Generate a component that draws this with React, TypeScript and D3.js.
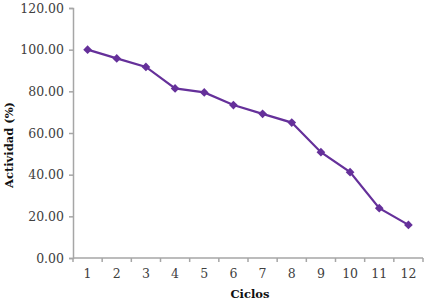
import React, { useRef, useEffect } from 'react';
import * as d3 from 'd3';

// data
const ciclos = ['1', '2', '3', '4', '5', '6', '7', '8', '9', '10', '11', '12'];
const actividad = [100, 95.8, 91.7, 81.4, 79.5, 73.4, 69.2, 65.0, 50.8, 41.2, 23.9, 15.9];
const yTicks = [0, 20, 40, 60, 80, 100, 120];

const W = 425;
const H = 303;
const margin = { top: 8, right: 2, bottom: 45, left: 73 };

const Chart = () => {
  const svgRef = useRef<SVGSVGElement>(null);

  useEffect(() => {
    const svg = d3.select(svgRef.current);
    svg.selectAll('*').remove();

    const x = d3
      .scaleBand()
      .domain(ciclos)
      .range([margin.left, W - margin.right]);
    const y = d3
      .scaleLinear()
      .domain([0, 120])
      .range([H - margin.bottom, margin.top]);

    const axisColor = '#a6a6a6';
    const font = '"DejaVu Serif", serif';

    // y axis
    const yAxis = svg
      .append('g')
      .attr('transform', `translate(${margin.left},0)`)
      .call(
        d3
          .axisLeft(y)
          .tickValues(yTicks)
          .tickSize(4)
          .tickFormat((d) => (d as number).toFixed(2))
      );
    yAxis.select('.domain').attr('stroke', axisColor).attr('stroke-width', 1.5);
    yAxis.selectAll('line').attr('stroke', axisColor).attr('stroke-width', 1.5);
    yAxis
      .selectAll('text')
      .attr('fill', '#404040')
      .attr('font-family', font)
      .attr('font-size', 12.5)
      .attr('x', -9);

    // x axis, ticks at category boundaries
    const xg = svg.append('g').attr('transform', `translate(0,${H - margin.bottom})`);
    xg.append('line')
      .attr('x1', margin.left)
      .attr('x2', W - margin.right)
      .attr('stroke', axisColor)
      .attr('stroke-width', 1.5);
    const bounds = ciclos.map((c) => x(c) as number).concat([W - margin.right]);
    xg.selectAll('.tick')
      .data(bounds)
      .join('line')
      .attr('x1', (d) => d)
      .attr('x2', (d) => d)
      .attr('y2', 4)
      .attr('stroke', axisColor)
      .attr('stroke-width', 1.5);
    xg.selectAll('.lbl')
      .data(ciclos)
      .join('text')
      .attr('x', (d) => (x(d) as number) + x.bandwidth() / 2)
      .attr('y', 20)
      .attr('text-anchor', 'middle')
      .attr('fill', '#404040')
      .attr('font-family', font)
      .attr('font-size', 12.5)
      .text((d) => d);

    // titles
    svg
      .append('text')
      .attr('x', (margin.left + W - margin.right) / 2 + 2)
      .attr('y', 298)
      .attr('text-anchor', 'middle')
      .attr('font-family', font)
      .attr('font-weight', 'bold')
      .attr('font-size', 11.5)
      .attr('fill', '#111')
      .text('Ciclos');
    svg
      .append('text')
      .attr('transform', `translate(13,${(y(0) + y(120)) / 2 + 12}) rotate(-90)`)
      .attr('text-anchor', 'middle')
      .attr('font-family', font)
      .attr('font-weight', 'bold')
      .attr('font-size', 11.5)
      .attr('fill', '#111')
      .text('Actividad (%)');

    const purple = '#65309a';
    const cx = (i: number) => (x(ciclos[i]) as number) + x.bandwidth() / 2;

    const myLine = d3
      .line<number>()
      .x((d, i) => cx(i))
      .y((d) => y(d));

    svg
      .append('path')
      .datum(actividad)
      .attr('d', myLine)
      .attr('fill', 'none')
      .attr('stroke', purple)
      .attr('stroke-width', 2.2);

    svg
      .selectAll('.pt')
      .data(actividad)
      .join('path')
      .attr('d', d3.symbol(d3.symbolDiamond2, 48)())
      .attr('transform', (d, i) => `translate(${cx(i)},${y(d)})`)
      .attr('fill', purple);
  }, []);

  return <svg ref={svgRef} width={W} height={H} style={{ display: 'block' }}></svg>;
};

export default function App() {
  return (
    <div style={{ position: 'fixed', left: 0, top: 0, background: '#fff' }}>
      <Chart />
    </div>
  );
}
